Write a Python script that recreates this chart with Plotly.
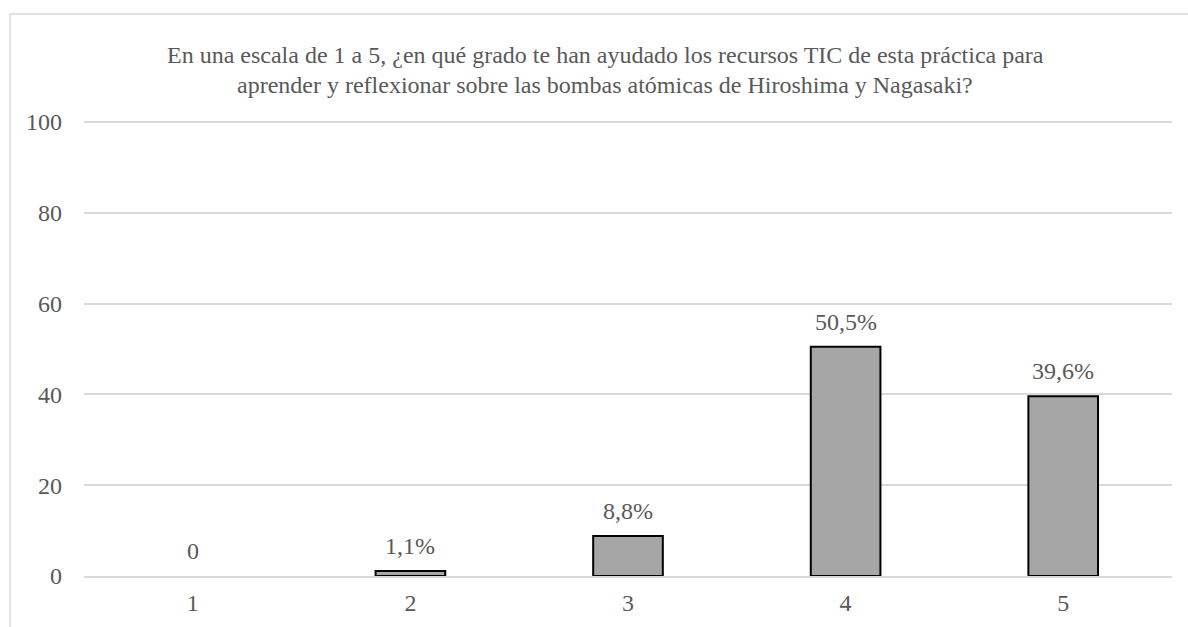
import plotly.graph_objects as go

# Survey answers on a 1-5 scale (percentage of respondents)
categories = ["1", "2", "3", "4", "5"]
values = [0, 1.1, 8.8, 50.5, 39.6]
labels = ["0", "1,1%", "8,8%", "50,5%", "39,6%"]
y_ticks = [0, 20, 40, 60, 80, 100]

title_lines = [
    "En una escala de 1 a 5, ¿en qué grado te han ayudado los recursos TIC de esta práctica para",
    "aprender y reflexionar sobre las bombas atómicas de Hiroshima y Nagasaki?",
]

FONT = "Liberation Serif"
FS = 24
TEXT_COLOR = "#595959"
GRID = "#D9D9D9"

W, H = 1188, 627
L, R, T, B = 84, 16, 113, 51

fig = go.Figure(
    go.Bar(
        x=categories,
        y=values,
        marker=dict(
            color="#A6A6A6",
            line=dict(color="#000000", width=[0 if v == 0 else 2 for v in values]),
        ),
        width=0.32,
        hoverinfo="skip",
    )
)

# Value labels above each bar (category axis positions are indices)
for i, (v, t) in enumerate(zip(values, labels)):
    fig.add_annotation(
        x=i, y=v, text=t, showarrow=False,
        yanchor="middle", yshift=25,
        font=dict(family=FONT, size=FS, color=TEXT_COLOR),
    )

# Two-line chart title, centred over the chart frame
for line, yc in zip(title_lines, [55, 85]):
    fig.add_annotation(
        xref="paper", yref="paper",
        x=(605 - L) / (W - L - R), y=(H - B - yc) / (H - T - B),
        text=line, showarrow=False, xanchor="center", yanchor="middle",
        font=dict(family=FONT, size=FS, color=TEXT_COLOR),
    )

# Outer chart frame (extends past the right and bottom edges of the page)
pw, ph = W - L - R, H - T - B
fig.add_shape(
    type="rect", xref="paper", yref="paper",
    x0=(10 - L) / pw, x1=(W + 20 - L) / pw,
    y0=-(B + 20) / ph, y1=(H - B - 14) / ph,
    line=dict(color=GRID, width=1.5), fillcolor="rgba(0,0,0,0)", layer="below",
)

fig.update_layout(
    width=W, height=H,
    margin=dict(l=L, r=R, t=T, b=B),
    paper_bgcolor="white", plot_bgcolor="white",
    showlegend=False,
    font=dict(family=FONT, size=FS, color=TEXT_COLOR),
    xaxis=dict(
        type="category",
        showgrid=False, showline=True, linecolor=GRID, linewidth=1.5,
        ticks="", tickfont=dict(family=FONT, size=FS, color=TEXT_COLOR),
        ticklabelstandoff=4,
    ),
    yaxis=dict(
        range=[0, 102], tickvals=y_ticks,
        showgrid=True, gridcolor=GRID, gridwidth=1.5,
        zeroline=False, showline=False, ticks="",
        tickfont=dict(family=FONT, size=FS, color=TEXT_COLOR),
        ticklabelstandoff=21,
    ),
)

fig.write_html("out.html")
